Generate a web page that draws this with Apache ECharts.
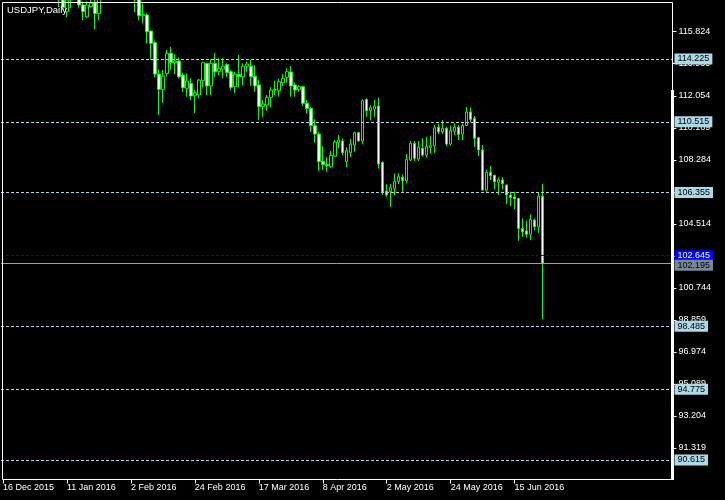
<!DOCTYPE html>
<html>
<head>
<meta charset="utf-8">
<script src="https://cdn.jsdelivr.net/npm/echarts@6/dist/echarts.min.js"></script>
<style>
html,body{margin:0;padding:0;background:#000;}
#c{width:725px;height:500px;}
</style>
</head>
<body>
<div id="c"></div>
<script>
// ---- Data (USDJPY, Daily) ----
const dates = [
 '16 Dec 2015','17 Dec 2015','18 Dec 2015','21 Dec 2015','22 Dec 2015','23 Dec 2015','24 Dec 2015','28 Dec 2015','29 Dec 2015','30 Dec 2015','31 Dec 2015',
 '4 Jan 2016','5 Jan 2016','6 Jan 2016','7 Jan 2016','8 Jan 2016','11 Jan 2016','12 Jan 2016','13 Jan 2016','14 Jan 2016','15 Jan 2016',
 '18 Jan 2016','19 Jan 2016','20 Jan 2016','21 Jan 2016','22 Jan 2016','25 Jan 2016','26 Jan 2016','27 Jan 2016','28 Jan 2016','29 Jan 2016',
 '1 Feb 2016','2 Feb 2016','3 Feb 2016','4 Feb 2016','5 Feb 2016','8 Feb 2016','9 Feb 2016','10 Feb 2016','11 Feb 2016','12 Feb 2016',
 '15 Feb 2016','16 Feb 2016','17 Feb 2016','18 Feb 2016','19 Feb 2016','22 Feb 2016','23 Feb 2016','24 Feb 2016','25 Feb 2016','26 Feb 2016','29 Feb 2016',
 '1 Mar 2016','2 Mar 2016','3 Mar 2016','4 Mar 2016','7 Mar 2016','8 Mar 2016','9 Mar 2016','10 Mar 2016','11 Mar 2016',
 '14 Mar 2016','15 Mar 2016','16 Mar 2016','17 Mar 2016','18 Mar 2016','21 Mar 2016','22 Mar 2016','23 Mar 2016','24 Mar 2016','25 Mar 2016',
 '28 Mar 2016','29 Mar 2016','30 Mar 2016','31 Mar 2016','1 Apr 2016','4 Apr 2016','5 Apr 2016','6 Apr 2016','7 Apr 2016','8 Apr 2016',
 '11 Apr 2016','12 Apr 2016','13 Apr 2016','14 Apr 2016','15 Apr 2016','18 Apr 2016','19 Apr 2016','20 Apr 2016','21 Apr 2016','22 Apr 2016',
 '25 Apr 2016','26 Apr 2016','27 Apr 2016','28 Apr 2016','29 Apr 2016','2 May 2016','3 May 2016','4 May 2016','5 May 2016','6 May 2016',
 '9 May 2016','10 May 2016','11 May 2016','12 May 2016','13 May 2016','16 May 2016','17 May 2016','18 May 2016','19 May 2016','20 May 2016',
 '23 May 2016','24 May 2016','25 May 2016','26 May 2016','27 May 2016','30 May 2016','31 May 2016',
 '1 Jun 2016','2 Jun 2016','3 Jun 2016','6 Jun 2016','7 Jun 2016','8 Jun 2016','9 Jun 2016','10 Jun 2016',
 '13 Jun 2016','14 Jun 2016','15 Jun 2016','16 Jun 2016','17 Jun 2016','20 Jun 2016','21 Jun 2016','22 Jun 2016','23 Jun 2016','24 Jun 2016'
];
const openP = [
 121.0,122.2,122.6,121.2,121.1,121.05,120.9,120.4,120.45,120.5,120.4,
 120.2,119.4,119.0,118.5,117.7,117.0,117.7,117.75,118.0,117.4,
 116.7,117.3,117.52,116.9,117.8,118.8,118.3,118.4,118.7,118.75,
 121.1,121.0,120.0,117.9,116.77,116.81,115.86,115.18,113.33,112.43,
 113.37,114.55,114.0,114.1,113.27,112.49,112.78,112.05,112.1,112.94,113.96,
 112.63,113.96,113.47,113.62,113.9,113.47,112.59,113.31,113.17,
 113.8,113.8,113.21,112.69,111.41,111.51,111.96,112.39,112.35,112.82,
 113.14,113.45,112.69,112.43,112.59,111.61,111.31,110.29,109.8,108.2,
 108.0,107.87,108.5,109.29,109.39,108.17,108.7,109.15,109.88,109.39,
 111.84,111.17,111.27,111.45,108.13,106.45,106.41,106.6,107.0,107.26,
 107.05,108.27,109.25,108.33,108.96,108.56,109.0,109.1,110.2,109.93,
 110.14,109.21,109.96,110.2,109.8,110.3,111.1,
 110.73,109.58,108.86,106.5,107.55,107.38,106.95,107.1,
 106.8,106.21,106.1,106.01,104.24,104.1,103.89,104.73,104.34,106.14
];
const closeP = [
 122.2,122.6,121.2,121.1,121.05,120.9,120.4,120.45,120.5,120.4,120.2,
 119.4,119.0,118.5,117.7,117.25,117.7,117.75,118.0,117.4,117.0,
 117.4,117.52,116.9,117.8,118.8,118.3,118.4,118.7,118.75,121.1,
 121.0,120.0,117.9,116.77,116.85,115.82,115.14,113.33,112.43,113.21,
 114.55,114.0,114.1,113.17,112.53,112.92,112.04,112.23,112.98,114.0,112.63,
 113.96,113.47,113.67,113.8,113.41,112.55,113.33,113.17,113.8,
 113.92,113.17,112.63,111.41,111.57,111.96,112.39,112.42,112.88,113.08,
 113.47,112.63,112.39,112.59,111.61,111.31,110.29,109.8,108.17,108.0,
 107.93,108.54,109.33,109.45,108.7,108.82,109.21,109.88,109.39,111.77,
 111.17,111.35,111.45,108.03,106.39,106.21,106.64,107.0,107.29,107.06,
 108.31,109.25,108.37,109.02,108.56,109.06,109.12,110.17,109.93,110.14,
 109.21,110.0,110.2,109.78,110.3,111.1,110.66,
 109.55,108.86,106.5,107.55,107.34,106.99,107.1,106.88,
 106.21,106.05,105.98,104.24,104.04,103.9,104.77,104.34,106.14,102.195
];
const lowP = [
 120.7,122.0,121.0,120.8,120.8,120.6,120.3,120.2,120.3,120.2,119.9,
 118.7,118.9,118.2,117.3,117.1,116.67,117.2,117.6,117.25,116.51,
 116.62,117.25,115.96,116.5,117.6,118.2,117.7,118.2,118.3,118.0,
 120.6,119.7,116.97,116.51,116.32,115.14,114.16,113.14,110.92,111.64,
 113.18,113.57,113.33,113.08,112.29,112.0,111.8,111.02,111.9,112.55,112.1,
 112.1,113.17,113.27,113.08,113.17,112.39,112.23,112.55,112.68,
 113.47,112.63,112.29,110.62,110.82,111.17,111.37,112.1,112.0,112.63,
 112.82,112.0,112.0,112.29,111.45,111.02,109.93,109.3,107.63,107.68,
 107.58,107.81,108.46,108.96,108.56,107.84,108.46,108.75,109.33,109.2,
 110.82,110.62,110.82,107.77,106.2,106.1,105.52,106.2,106.85,106.4,
 106.89,108.21,108.21,108.21,108.46,108.42,108.66,108.7,109.8,109.8,
 109.09,109.1,109.74,109.45,109.45,110.27,110.49,
 109.05,108.52,106.46,106.4,107.09,106.56,106.2,106.56,
 105.67,105.56,105.38,103.51,103.75,103.7,103.55,104.14,103.98,98.9
];
const highP = [
 122.3,123.0,122.6,121.5,121.3,121.2,120.9,120.6,120.7,120.6,120.5,
 120.3,119.7,119.1,118.8,118.1,118.0,118.2,118.8,118.3,117.6,
 117.6,118.0,117.9,118.0,118.9,118.9,118.5,119.0,119.0,121.7,
 121.5,121.0,120.1,118.2,117.5,116.9,115.9,115.29,113.61,113.57,
 114.75,114.94,114.51,114.31,113.41,113.37,113.08,112.39,113.04,114.06,114.0,
 114.2,114.59,114.26,114.26,113.96,113.57,113.47,114.46,113.96,
 114.06,114.16,113.86,112.98,111.8,112.1,112.55,112.94,113.06,113.33,
 113.67,113.8,112.82,112.69,112.63,111.8,111.41,110.66,109.93,109.09,
 108.46,108.81,109.45,109.74,109.54,109.02,109.52,109.93,109.93,111.84,
 111.9,111.5,111.8,111.94,108.21,106.84,106.85,107.48,107.48,107.42,
 108.62,109.39,109.39,109.39,109.55,109.64,109.68,110.33,110.39,110.62,
 110.23,110.3,110.43,110.33,110.43,111.4,111.37,
 110.86,109.64,109.15,107.68,107.91,107.38,107.25,107.25,
 106.83,106.4,106.4,106.05,104.83,104.7,105.07,104.83,106.38,106.85
];
const emptySlots = 32; // chart shift on the right
const xTickLabels = ['16 Dec 2015','11 Jan 2016','2 Feb 2016','24 Feb 2016','17 Mar 2016','8 Apr 2016','2 May 2016','24 May 2016','15 Jun 2016'];
const yTicks = [91.319,93.204,95.089,96.974,98.859,100.744,102.629,104.514,106.399,108.284,110.169,112.054,113.939,115.824];
const levels = [114.225,110.515,106.355,98.485,94.775,90.615];
const askPrice = 102.645;
const bidPrice = 102.195;
const yMin = 89.46, yMax = 117.545;

// ---- Chart ----
const FONT = '"Liberation Sans", Arial, sans-serif';
const categories = dates.concat(new Array(emptySlots).fill(''));
const ohlc = dates.map((d, i) => [openP[i], closeP[i], lowP[i], highP[i]]);
const showTick = (idx, val) => xTickLabels.indexOf(val) >= 0;

const lvlLabel = (v, bg, fg) => ({
  show: true, position: 'end', distance: 2,
  formatter: () => v.toFixed(3),
  backgroundColor: bg, color: fg, fontSize: 9, fontFamily: FONT,
  padding: [1, 3, 0, 3], lineHeight: 10
});

const markData = levels.map(v => ({
  yAxis: v,
  lineStyle: { color: '#add8e6', type: [3, 2], width: 1 },
  label: lvlLabel(v, '#add8e6', '#000')
}));
markData.push({
  yAxis: askPrice,
  lineStyle: { color: '#0000ff', type: [3, 2], width: 1 },
  label: lvlLabel(askPrice, '#0000ff', '#fff')
});
markData.push({
  yAxis: bidPrice,
  lineStyle: { color: '#a0a0a0', type: 'solid', width: 1 },
  label: Object.assign(lvlLabel(bidPrice, '#778899', '#000'), { offset: [0, 2] })
});

const chart = echarts.init(document.getElementById('c'), null, { renderer: 'canvas' });
chart.setOption({
  backgroundColor: '#000',
  animation: false,
  title: {
    text: 'USDJPY,Daily', left: 7, top: 5, padding: 0,
    textStyle: { color: '#fff', fontSize: 9.5, fontWeight: 'normal', fontFamily: FONT }
  },
  grid: { left: 0.5, top: 2.5, width: 672, height: 477, show: false },
  xAxis: {
    type: 'category', data: categories, boundaryGap: true,
    axisLine: { show: false },
    axisTick: { show: true, alignWithLabel: true, interval: showTick, length: 4, lineStyle: { color: '#fff' } },
    axisLabel: { interval: showTick, color: '#fff', fontSize: 9, fontFamily: FONT, align: 'left', margin: 4 },
    splitLine: { show: false }
  },
  yAxis: {
    type: 'value', position: 'right', min: yMin, max: yMax,
    axisLine: { show: false },
    axisTick: { show: true, length: 4, customValues: yTicks, lineStyle: { color: '#fff' } },
    axisLabel: { customValues: yTicks, color: '#fff', fontSize: 9, fontFamily: FONT, margin: 6, formatter: v => Number(v).toFixed(3) },
    splitLine: { show: false }
  },
  series: [
    {
      type: 'candlestick', data: ohlc, barWidth: 3, clip: true,
      itemStyle: {
        color: '#000', color0: '#fff',
        borderColor: '#00ff00', borderColor0: '#00ff00', borderColorDoji: '#00ff00',
        borderWidth: 1
      }
    },
    {
      type: 'line', data: [], symbol: 'none', silent: true, clip: false,
      markLine: { symbol: ['none', 'none'], silent: true, animation: false, data: markData }
    }
  ],
  graphic: [
    { type: 'rect', silent: true, z: 100, shape: { x: 2.5, y: 2.5, width: 670, height: 477 }, style: { fill: null, stroke: '#fff', lineWidth: 1 } },
    { type: 'rect', silent: true, z: 100, shape: { x: 671, y: 90, width: 3, height: 390 }, style: { fill: '#fff' } }
  ]
});
</script>
</body>
</html>
